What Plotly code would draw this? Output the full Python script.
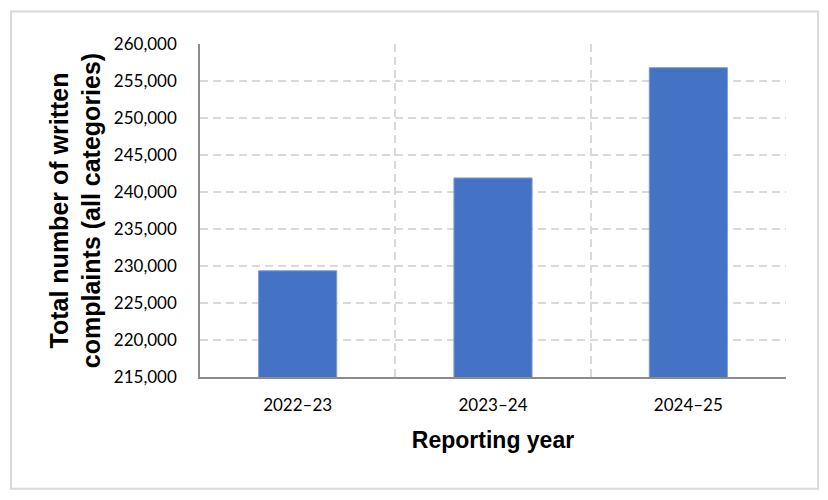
import plotly.graph_objects as go

# reporting years and totals
years = ["2022–23", "2023–24", "2024–25"]
complaints = [229350, 241900, 256800]

y_ticks = list(range(215000, 260001, 5000))
y_labels = [f"{v:,}" for v in y_ticks]

fig = go.Figure()
fig.add_trace(go.Bar(
    x=years, y=complaints,
    marker=dict(color="#4472C4", line=dict(color="#7d9bd6", width=1)),
    width=0.4, hoverinfo="x+y",
))

grid = dict(showgrid=True, gridcolor="#d9d9d9", gridwidth=2, griddash="8px,5px")
tick_font = dict(family="Lato, Carlito, Calibri, sans-serif", size=17, color="#000000")

fig.update_xaxes(
    type="category", tickson="boundaries", ticks="", tickfont=tick_font,
    ticklabelstandoff=12,
    showline=True, linecolor="#8c8c8c", linewidth=1.5,
    title=dict(text="<b>Reporting year</b>", standoff=18,
               font=dict(family="Liberation Sans, Arial, sans-serif", size=23, color="#000000")),
    range=[-0.5, 2.5], **grid,
)
fig.update_yaxes(
    range=[215000, 260000], tickvals=y_ticks, ticktext=y_labels,
    tickfont=tick_font, ticks="", ticklabelstandoff=18,
    showline=True, linecolor="#8c8c8c", linewidth=1.5, zeroline=False,
    title=dict(text="<b>Total number of written<br>complaints (all categories)</b>", standoff=6,
               font=dict(family="Liberation Sans, Arial, sans-serif", size=25, color="#000000")),
    **grid,
)

# light frame round the whole chart
fig.add_shape(type="rect", xref="paper", yref="paper",
              x0=-0.3225, x1=1.0546, y0=-0.3358, y1=1.0975,
              line=dict(color="#d9d9d9", width=2), layer="below")

fig.update_layout(
    width=820, height=492,
    margin=dict(l=192, r=42, t=36, b=123),
    plot_bgcolor="white", paper_bgcolor="white",
    showlegend=False, bargap=0.6,
)

fig.write_html("out.html")
